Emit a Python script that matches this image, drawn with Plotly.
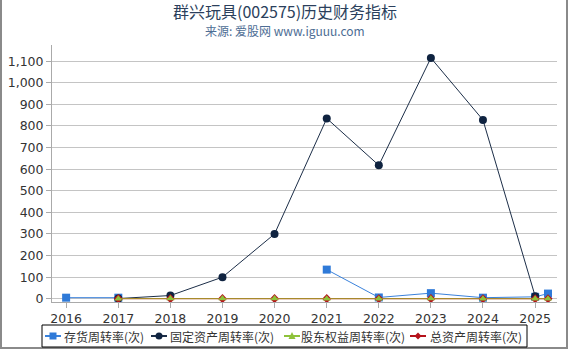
import plotly.graph_objects as go

dates = ["2016-01-01", "2017-01-01", "2018-01-01", "2019-01-01", "2020-01-01",
         "2021-01-01", "2022-01-01", "2023-01-01", "2024-01-01", "2025-01-01", "2025-04-01"]
inventory = [5, 5, None, None, None, 135, 6, 26, 5, 9, 24]
fixed_assets = [None, 1, 15, 100, 300, 835, 618, 1115, 828, 12, None]
equity = [None, 0.6, 0.7, 0.8, 0.7, 0.6, 0.5, 0.7, 0.5, 0.4, 0.3]
total_assets = [None, 0.4, 0.5, 0.5, 0.5, 0.4, 0.3, 0.4, 0.3, 0.3, 0.2]

names = ["存货周转率(次)", "固定资产周转率(次)", "股东权益周转率(次)", "总资产周转率(次)"]
line_colors = ["#3a82dc", "#1c2e48", "#8ec23a", "#b5121b"]
marker_colors = ["#2f7ad8", "#0f2340", "#8ec23a", "#b5121b"]

fig = go.Figure()
fig.add_trace(go.Scatter(x=dates, y=inventory, name=names[0], mode="lines+markers",
                         line=dict(color=line_colors[0], width=1),
                         marker=dict(symbol="square", size=8, color=marker_colors[0])))
fig.add_trace(go.Scatter(x=dates, y=fixed_assets, name=names[1], mode="lines+markers",
                         line=dict(color=line_colors[1], width=1),
                         marker=dict(symbol="circle", size=8, color=marker_colors[1])))
fig.add_trace(go.Scatter(x=dates, y=total_assets, name=names[3], mode="lines+markers",
                         line=dict(color=line_colors[3], width=1),
                         marker=dict(symbol="diamond", size=7, color=marker_colors[3])))
fig.add_trace(go.Scatter(x=dates, y=equity, name=names[2], mode="lines+markers",
                         line=dict(color="#a59a2a", width=1),
                         marker=dict(symbol="triangle-up", size=7, color=marker_colors[2])))

# plot area geometry (pixels)
L, R, T, B = 52, 13, 45, 48
W, H = 570 - L - R, 350 - T - B


def px(x):
    return (x - L) / W


def py(y):
    return (350 - B - y) / H


shapes = []
annotations = [
    dict(text="群兴玩具(002575)历史财务指标", xref="paper", yref="paper",
         x=px(285), y=py(10.5), xanchor="center", yanchor="middle", showarrow=False,
         borderpad=0,
         font=dict(family="Noto Sans CJK SC, DejaVu Sans", size=16, color="#2b3f5c")),
    dict(text="来源: 爱股网 www.iguuu.com", xref="paper", yref="paper",
         x=px(285), y=py(30.5), xanchor="center", yanchor="middle", showarrow=False,
         borderpad=0,
         font=dict(family="Noto Sans CJK SC, DejaVu Sans", size=12, color="#4d6d94")),
]

# outer frame
shapes.append(dict(type="rect", xref="paper", yref="paper",
                   x0=px(1), x1=px(567), y0=py(348), y1=py(-3),
                   line=dict(color="#8a8a8a", width=2), fillcolor="rgba(0,0,0,0)", layer="below"))

# custom legend (single row, tight spacing as in the reference)
shapes.append(dict(type="rect", xref="paper", yref="paper",
                   x0=px(42), x1=px(527), y0=py(347), y1=py(325),
                   line=dict(color="#000000", width=1), fillcolor="white"))
leg_y = 336
sym_centers = [53, 159, 292, 418]
text_starts = [64, 170, 301, 430]
kinds = ["square", "circle", "triangle", "diamond"]
for i, k in enumerate(kinds):
    c = sym_centers[i]
    shapes.append(dict(type="line", xref="paper", yref="paper",
                       x0=px(c - 8), x1=px(c + 8), y0=py(leg_y), y1=py(leg_y),
                       line=dict(color=line_colors[i], width=2)))
    s = 3.5
    if k == "square":
        shapes.append(dict(type="rect", xref="paper", yref="paper",
                           x0=px(c - s), x1=px(c + s), y0=py(leg_y + s), y1=py(leg_y - s),
                           line=dict(width=0), fillcolor=marker_colors[i]))
    elif k == "circle":
        shapes.append(dict(type="circle", xref="paper", yref="paper",
                           x0=px(c - s), x1=px(c + s), y0=py(leg_y + s), y1=py(leg_y - s),
                           line=dict(width=0), fillcolor=marker_colors[i]))
    elif k == "triangle":
        path = (f"M {px(c - s)} {py(leg_y + 3)} L {px(c + s)} {py(leg_y + 3)} "
                f"L {px(c)} {py(leg_y - 4)} Z")
        shapes.append(dict(type="path", xref="paper", yref="paper", path=path,
                           line=dict(width=0), fillcolor=marker_colors[i]))
    else:
        path = (f"M {px(c)} {py(leg_y - s)} L {px(c + s)} {py(leg_y)} "
                f"L {px(c)} {py(leg_y + s)} L {px(c - s)} {py(leg_y)} Z")
        shapes.append(dict(type="path", xref="paper", yref="paper", path=path,
                           line=dict(width=0), fillcolor=marker_colors[i]))
    annotations.append(dict(text=names[i], xref="paper", yref="paper",
                            x=px(text_starts[i]), y=py(leg_y), xanchor="left", yanchor="middle",
                            showarrow=False, xshift=-2,
                            font=dict(family="Noto Sans CJK SC, DejaVu Sans", size=12,
                                      color="#333333")))

fig.update_layout(
    width=570, height=350,
    margin=dict(l=L, r=R, t=T, b=B, autoexpand=False),
    paper_bgcolor="white", plot_bgcolor="white",
    font=dict(family="DejaVu Sans, Noto Sans CJK SC", size=12, color="#333333"),
    showlegend=False,
    xaxis=dict(type="date", range=["2015-09-24", "2025-06-03"],
               tick0="2016-01-01", dtick="M12", tickformat="%Y",
               showgrid=False, showline=True, linecolor="#aaaaaa",
               ticks="outside", ticklen=5, tickcolor="#aaaaaa",
               tickfont=dict(size=12.5, color="#333333")),
    yaxis=dict(range=[-15, 1175], tickvals=list(range(0, 1101, 100)),
               tickformat=",d", showgrid=True, gridcolor="#c4c4c4", gridwidth=1,
               zeroline=False, showline=True, linecolor="#aaaaaa",
               ticks="outside", ticklen=5, tickcolor="#aaaaaa",
               tickfont=dict(size=12.5, color="#333333")),
    shapes=shapes,
    annotations=annotations,
)

fig.write_html("out.html")
